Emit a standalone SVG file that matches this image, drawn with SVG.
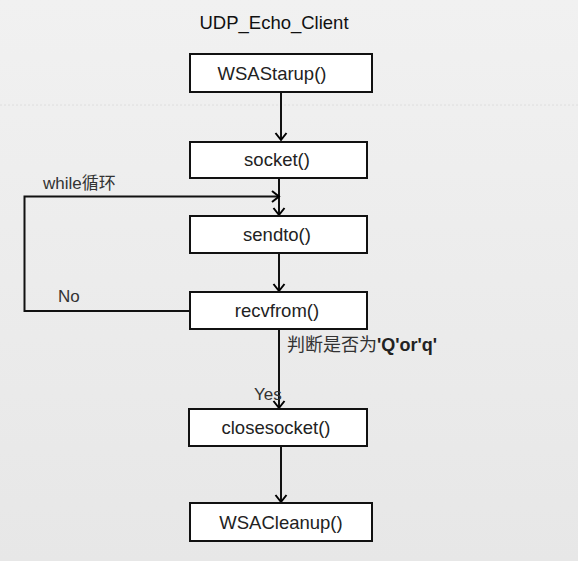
<svg xmlns="http://www.w3.org/2000/svg" width="578" height="561" viewBox="0 0 578 561">
<defs>
<linearGradient id="bg" x1="0" y1="0" x2="0" y2="1">
<stop offset="0" stop-color="#f1f1f1"/>
<stop offset="1" stop-color="#e7e7e7"/>
</linearGradient>
<marker id="arr" markerWidth="14" markerHeight="14" refX="10" refY="7" orient="auto" markerUnits="userSpaceOnUse">
<polyline points="3,1.5 10,7 3,12.5" fill="none" stroke="#000" stroke-width="2"/>
</marker>
<style>
.box{fill:#fff;stroke:#111;stroke-width:2}
.lbl{font-family:"Liberation Sans",Arial,sans-serif;font-size:18.5px;fill:#222;text-anchor:middle}
.ln{fill:none;stroke:#111;stroke-width:2}
.note{font-family:"Liberation Sans","Noto Sans CJK SC",sans-serif;fill:#333}
</style>
</defs>
<rect x="0" y="0" width="578" height="561" fill="url(#bg)"/>
<line x1="0" y1="105" x2="578" y2="105" stroke="#dedede" stroke-width="1" stroke-dasharray="2,2"/>
<text x="274" y="29" class="lbl" style="fill:#111">UDP_Echo_Client</text>

<g id="connectors">
<line class="ln" x1="281" y1="92" x2="281" y2="140" marker-end="url(#arr)"/>
<line class="ln" x1="279" y1="178" x2="279" y2="215" marker-end="url(#arr)"/>
<line class="ln" x1="279" y1="253" x2="279" y2="291" marker-end="url(#arr)"/>
<polyline class="ln" points="190,311 24.5,311 24.5,196.5 279,196.5" marker-end="url(#arr)"/>
<line class="ln" x1="279" y1="329" x2="279" y2="408" marker-end="url(#arr)"/>
<line class="ln" x1="281" y1="446" x2="281" y2="502" marker-end="url(#arr)"/>
<text x="43" y="189" class="note" font-size="17">while循环</text>
<text x="58" y="302" class="note" font-size="17" fill="#222">No</text>
<text x="287" y="351" class="note" font-size="18">判断是否为<tspan font-weight="bold" fill="#222">'Q'or'q'</tspan></text>
<text x="254" y="400" class="note" font-size="17">Yes</text>
</g>

<g id="n-wsastartup"><rect class="box" x="190" y="54" width="182" height="38"/><text class="lbl" x="272" y="80">WSAStarup()</text></g>
<g id="n-socket"><rect class="box" x="190" y="142" width="177" height="36"/><text class="lbl" x="277" y="166">socket()</text></g>
<g id="n-sendto"><rect class="box" x="190" y="216" width="177" height="37"/><text class="lbl" x="277" y="241">sendto()</text></g>
<g id="n-recvfrom"><rect class="box" x="190" y="292" width="177" height="37"/><text class="lbl" x="277" y="317">recvfrom()</text></g>
<g id="n-closesocket"><rect class="box" x="189" y="409" width="178" height="37"/><text class="lbl" x="276" y="434">closesocket()</text></g>
<g id="n-wsacleanup"><rect class="box" x="190" y="503" width="182" height="38"/><text class="lbl" x="281" y="529">WSACleanup()</text></g>
</svg>
